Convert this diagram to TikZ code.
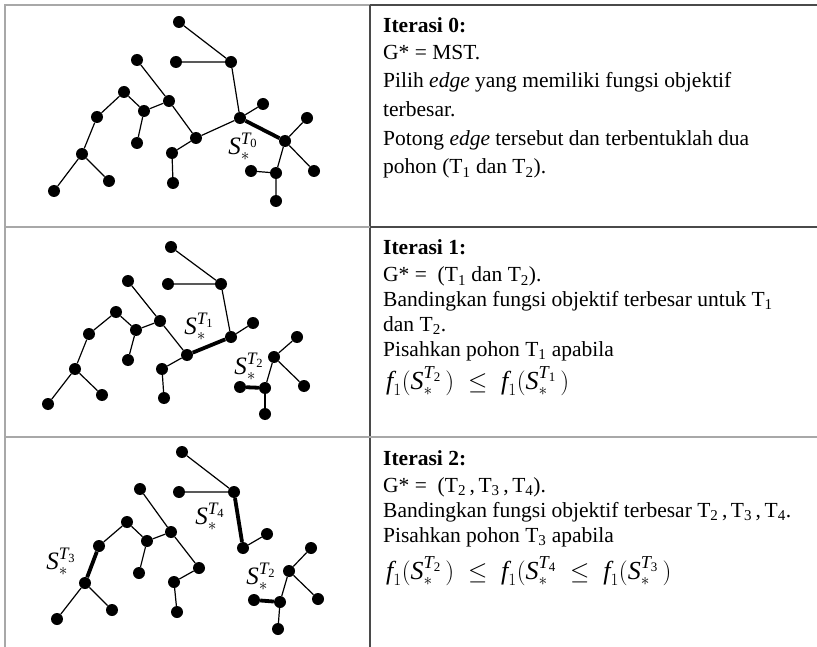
\documentclass[tikz,border=0pt]{standalone}
\usepackage{amsmath}
\usepackage{fontspec}
\setmainfont{Liberation Serif}
\definecolor{lgray}{HTML}{A8A8A8}
\definecolor{dgray}{HTML}{4A4A4A}
\newcommand{\Sst}[1]{\textit{S}_{*}^{\textit{T}_{\text{#1}}}}
\newcommand{\fone}{\textit{f}_{1}}
\begin{document}
\begin{tikzpicture}[x=1pt,y=-1pt,
  vtx/.style={circle,fill=black,inner sep=0pt,minimum size=12pt},
  edg/.style={line width=1.2pt},
  thk/.style={line width=3.8pt},
  mid/.style={line width=2.2pt},
  lbl/.style={font=\fontsize{25}{25}\selectfont,inner sep=0pt},
  txt/.style={anchor=base west,inner sep=0pt,font=\fontsize{21.5}{24}\selectfont},
  frm/.style={anchor=base west,inner sep=0pt,font=\fontsize{26}{26}\selectfont}]
\useasboundingbox (0,0) rectangle (817,647);
% table lines
\draw[lgray,line width=1.6pt] (5,647) -- (5,5) -- (370,5);
\draw[dgray,line width=1.6pt] (370,5) -- (817,5);
\draw[dgray,line width=1.4pt] (370,5) -- (370,647);
\draw[lgray,line width=1.6pt] (5,227) -- (370,227);
\draw[dgray,line width=1.6pt] (370,227) -- (817,227);
\draw[lgray,line width=1.6pt] (5,437) -- (817,437);

% ---------- Graph 0 ----------
\begin{scope}
\node[vtx] (a0) at (179,22) {};
\node[vtx] (b0) at (176,62) {};
\node[vtx] (c0) at (231,62) {};
\node[vtx] (d0) at (137,60) {};
\node[vtx] (e0) at (124,92) {};
\node[vtx] (f0) at (169,101) {};
\node[vtx] (g0) at (144,111) {};
\node[vtx] (h0) at (97,117) {};
\node[vtx] (i0) at (240,118) {};
\node[vtx] (j0) at (263,104) {};
\node[vtx] (k0) at (196,138) {};
\node[vtx] (l0) at (137,143) {};
\node[vtx] (m0) at (285,141) {};
\node[vtx] (n0) at (307,118) {};
\node[vtx] (o0) at (172,153) {};
\node[vtx] (p0) at (82,154) {};
\node[vtx] (q0) at (314,171) {};
\node[vtx] (r0) at (251,171) {};
\node[vtx] (s0) at (276,173) {};
\node[vtx] (t0) at (173,183) {};
\node[vtx] (u0) at (109,181) {};
\node[vtx] (v0) at (54,191) {};
\node[vtx] (w0) at (276,201) {};
\draw[edg] (a0)--(c0) (b0)--(c0) (c0)--(i0) (d0)--(f0) (f0)--(k0) (e0)--(g0) (g0)--(f0)
  (e0)--(h0) (h0)--(p0) (p0)--(v0) (p0)--(u0) (g0)--(l0) (k0)--(o0) (o0)--(t0)
  (k0)--(i0) (i0)--(j0) (m0)--(n0) (m0)--(q0) (m0)--(s0) (s0)--(r0) (s0)--(w0);
\draw[thk] (i0)--(m0);
\node[lbl] (L0) at (243,147) {$\Sst{0}$};
\end{scope}

% ---------- Graph 1 ----------
\begin{scope}
\node[vtx] (a1) at (171,247) {};
\node[vtx] (b1) at (168,284) {};
\node[vtx] (c1) at (221,284) {};
\node[vtx] (d1) at (128,281) {};
\node[vtx] (e1) at (116,312) {};
\node[vtx] (f1) at (160,321) {};
\node[vtx] (g1) at (136,330) {};
\node[vtx] (h1) at (89,334) {};
\node[vtx] (i1) at (231,337) {};
\node[vtx] (j1) at (253,323) {};
\node[vtx] (k1) at (187,355) {};
\node[vtx] (l1) at (128,360) {};
\node[vtx] (o1) at (162,369) {};
\node[vtx] (p1) at (75,369) {};
\node[vtx] (t1) at (164,398) {};
\node[vtx] (u1) at (102,395) {};
\node[vtx] (v1) at (48,404) {};
\node[vtx] (m1) at (274,357) {};
\node[vtx] (n1) at (297,337) {};
\node[vtx] (q1) at (304,386) {};
\node[vtx] (s1) at (265,388) {};
\node[vtx] (r1) at (240,387) {};
\node[vtx] (w1) at (265,414) {};
\draw[edg] (a1)--(c1) (b1)--(c1) (c1)--(i1) (d1)--(f1) (f1)--(k1) (e1)--(g1) (g1)--(f1)
  (e1)--(h1) (h1)--(p1) (p1)--(v1) (p1)--(u1) (g1)--(l1) (k1)--(o1) (o1)--(t1)
  (i1)--(j1) (m1)--(n1) (m1)--(q1) (m1)--(s1);
\draw[mid] (s1)--(w1);
\draw[thk] (k1)--(i1) (s1)--(r1);
\node[lbl] (L1a) at (199,327) {$\Sst{1}$};
\node[lbl] (L1b) at (249,367) {$\Sst{2}$};
\end{scope}

% ---------- Graph 2 ----------
\begin{scope}
\node[vtx] (a2) at (182,452) {};
\node[vtx] (b2) at (179,492) {};
\node[vtx] (c2) at (234,492) {};
\node[vtx] (d2) at (140,489) {};
\node[vtx] (e2) at (127,522) {};
\node[vtx] (f2) at (171,532) {};
\node[vtx] (g2) at (147,541) {};
\node[vtx] (h2) at (99,546) {};
\node[vtx] (i2) at (243,548) {};
\node[vtx] (j2) at (267,534) {};
\node[vtx] (k2) at (199,568) {};
\node[vtx] (l2) at (139,573) {};
\node[vtx] (o2) at (174,582) {};
\node[vtx] (p2) at (85,583) {};
\node[vtx] (t2) at (177,612) {};
\node[vtx] (u2) at (112,610) {};
\node[vtx] (v2) at (57,619) {};
\node[vtx] (m2) at (289,571) {};
\node[vtx] (n2) at (311,548) {};
\node[vtx] (q2) at (318,599) {};
\node[vtx] (s2) at (280,602) {};
\node[vtx] (r2) at (254,600) {};
\node[vtx] (w2) at (278,629) {};
\draw[edg] (a2)--(c2) (b2)--(c2) (d2)--(f2) (f2)--(k2) (e2)--(g2) (g2)--(f2)
  (e2)--(h2) (p2)--(v2) (p2)--(u2) (g2)--(l2) (k2)--(o2) (o2)--(t2)
  (i2)--(j2) (m2)--(n2) (m2)--(q2) (m2)--(s2) (s2)--(w2);
\draw[thk] (c2)--(i2) (h2)--(p2) (s2)--(r2);
\node[lbl] (L2a) at (210,517) {$\Sst{4}$};
\node[lbl] (L2b) at (61,562) {$\Sst{3}$};
\node[lbl] (L2c) at (261,577) {$\Sst{2}$};
\end{scope}

% ---------- Text column ----------
\node[txt] (r0l1) at (383,33) {\textbf{Iterasi 0:}};
\node[txt] (r0l2) at (383,60) {G* = MST.};
\node[txt] (r0l3) at (383,88) {Pilih \textit{edge} yang memiliki fungsi objektif};
\node[txt] (r0l4) at (383,117) {terbesar.};
\node[txt] (r0l5) at (383,146) {Potong \textit{edge} tersebut dan terbentuklah dua};
\node[txt] (r0l6) at (383,174) {pohon (T\textsubscript{1} dan T\textsubscript{2}).};

\node[txt] (r1l1) at (383,255) {\textbf{Iterasi 1:}};
\node[txt] (r1l2) at (383,282) {G* =\ \ (T\textsubscript{1} dan T\textsubscript{2}).};
\node[txt] (r1l3) at (383,306) {Bandingkan fungsi objektif terbesar untuk T\textsubscript{1}};
\node[txt] (r1l4) at (383,331) {dan T\textsubscript{2}.};
\node[txt] (r1l5) at (383,356) {Pisahkan pohon T\textsubscript{1} apabila};
\node[frm] (r1l6) at (386,389) {$\fone(\Sst{2}\,)\;\leq\;\fone(\Sst{1}\,)$};

\node[txt] (r2l1) at (383,465) {\textbf{Iterasi 2:}};
\node[txt] (r2l2) at (383,492) {G* =\ \ (T\textsubscript{2}\,,\,T\textsubscript{3}\,,\,T\textsubscript{4}).};
\node[txt] (r2l3) at (383,517) {Bandingkan fungsi objektif terbesar T\textsubscript{2}\,,\,T\textsubscript{3}\,,\,T\textsubscript{4}.};
\node[txt] (r2l4) at (383,542) {Pisahkan pohon T\textsubscript{3} apabila};
\node[frm] (r2l5) at (386,579) {$\fone(\Sst{2}\,)\;\leq\;\fone(\Sst{4}\;\leq\;\fone(\Sst{3}\,)$};
\end{tikzpicture}
\end{document}
